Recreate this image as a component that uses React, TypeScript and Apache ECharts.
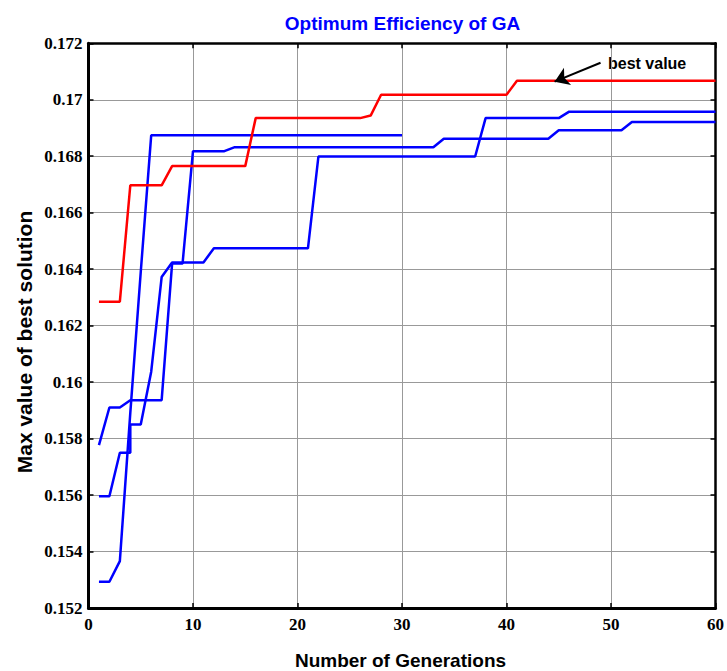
import React, { useEffect, useRef } from "react";
import * as echarts from "echarts";

const TITLE = "Optimum Efficiency of GA";
const X_NAME = "Number of Generations";
const Y_NAME = "Max value of best solution";
const ANNOTATION = "best value";

const X_MIN = 0;
const X_MAX = 60;
const X_STEP = 10;
const Y_MIN = 0.152;
const Y_MAX = 0.172;
const Y_STEP = 0.002;

// red: best run, generations 1..60
const bestValues = [
  0.16285, 0.16285, 0.16285,
  0.16697, 0.16697, 0.16697, 0.16697,
  0.16765, 0.16765, 0.16765, 0.16765, 0.16765, 0.16765, 0.16765, 0.16765,
  0.16935, 0.16935, 0.16935, 0.16935, 0.16935, 0.16935, 0.16935, 0.16935, 0.16935, 0.16935, 0.16935,
  0.16944,
  0.17018, 0.17018, 0.17018, 0.17018, 0.17018, 0.17018, 0.17018, 0.17018, 0.17018, 0.17018, 0.17018, 0.17018, 0.17018,
  0.17067, 0.17067, 0.17067, 0.17067, 0.17067, 0.17067, 0.17067, 0.17067, 0.17067, 0.17067,
  0.17067, 0.17067, 0.17067, 0.17067, 0.17067, 0.17067, 0.17067, 0.17067, 0.17067, 0.17067,
];

// blue run A, generations 1..30
const runAValues = [
  0.15293, 0.15293, 0.15366, 0.15891, 0.1639,
  0.16874, 0.16874, 0.16874, 0.16874, 0.16874, 0.16874, 0.16874, 0.16874, 0.16874, 0.16874,
  0.16874, 0.16874, 0.16874, 0.16874, 0.16874, 0.16874, 0.16874, 0.16874, 0.16874, 0.16874,
  0.16874, 0.16874, 0.16874, 0.16874, 0.16874,
];

// blue run B, generations 1..60
const runBValues = [
  0.15777, 0.1591, 0.1591,
  0.15936, 0.15936, 0.15936, 0.15936,
  0.1642, 0.1642,
  0.16818, 0.16818, 0.16818, 0.16818,
  0.16832, 0.16832, 0.16832, 0.16832, 0.16832, 0.16832, 0.16832, 0.16832, 0.16832, 0.16832,
  0.16832, 0.16832, 0.16832, 0.16832, 0.16832, 0.16832, 0.16832, 0.16832, 0.16832, 0.16832,
  0.16862, 0.16862, 0.16862, 0.16862, 0.16862, 0.16862, 0.16862, 0.16862, 0.16862, 0.16862, 0.16862,
  0.16892, 0.16892, 0.16892, 0.16892, 0.16892, 0.16892, 0.16892,
  0.16921, 0.16921, 0.16921, 0.16921, 0.16921, 0.16921, 0.16921, 0.16921, 0.16921,
];

// blue run C (generation 4 has a vertical step)
const runCGenerations = [
  1, 2, 3, 4, 4, 5, 6, 7, 8, 9, 10, 11, 12, 13, 14, 15, 16, 17, 18, 19, 20, 21,
  22, 23, 24, 25, 26, 27, 28, 29, 30, 31, 32, 33, 34, 35, 36, 37, 38, 39, 40,
  41, 42, 43, 44, 45, 46, 47, 48, 49, 50, 51, 52, 53, 54, 55, 56, 57, 58, 59, 60,
];
const runCValues = [
  0.15596, 0.15596, 0.1575, 0.1575, 0.1585, 0.1585, 0.16037, 0.16372,
  0.16424, 0.16424, 0.16424, 0.16424,
  0.16474, 0.16474, 0.16474, 0.16474, 0.16474, 0.16474, 0.16474, 0.16474, 0.16474, 0.16474,
  0.16799, 0.16799, 0.16799, 0.16799, 0.16799, 0.16799, 0.16799, 0.16799,
  0.16799, 0.16799, 0.16799, 0.16799, 0.16799, 0.16799, 0.16799, 0.16799,
  0.16935, 0.16935, 0.16935, 0.16935, 0.16935, 0.16935, 0.16935, 0.16935,
  0.16958, 0.16958, 0.16958, 0.16958, 0.16958, 0.16958, 0.16958, 0.16958,
  0.16958, 0.16958, 0.16958, 0.16958, 0.16958, 0.16958, 0.16958,
];

const arrowTail = [49.0, 0.17131];
const arrowHead = [44.6, 0.17064];

const SERIF = "'Liberation Serif', 'Times New Roman', serif";
const SANS = "'Liberation Sans', Arial, sans-serif";

export default function App() {
  const ref = useRef<HTMLDivElement>(null);

  useEffect(() => {
    document.body.style.margin = "0";
    if (!ref.current) return;
    const chart = echarts.init(ref.current, undefined, { renderer: "svg" });

    const toPairs = (vals: number[]) => vals.map((v, i) => [i + 1, v]);
    const cPairs = runCValues.map((v, i) => [runCGenerations[i], v]);

    const labelStyle = {
      fontFamily: SERIF,
      fontWeight: "bold" as const,
      fontSize: 17,
      color: "#000",
    };

    const lineSeries = (name: string, data: number[][], color: string, extra: any = {}) => ({
      name,
      type: "line",
      data,
      xAxisIndex: 0,
      yAxisIndex: 0,
      showSymbol: false,
      symbol: "none",
      lineStyle: { color, width: 2.5 },
      itemStyle: { color },
      z: 3,
      ...extra,
    });

    chart.setOption({
      animation: false,
      grid: { left: 88.5, right: 8.5, top: 43.3, bottom: 63, containLabel: false },
      xAxis: [
        {
          type: "value",
          min: X_MIN,
          max: X_MAX,
          interval: X_STEP,
          position: "bottom",
          axisLine: { show: true, onZero: false, lineStyle: { color: "#000", width: 3 } },
          axisTick: { show: true, inside: true, length: 5, lineStyle: { color: "#000", width: 1.5 } },
          axisLabel: { ...labelStyle, margin: 8 },
          splitLine: { show: true, lineStyle: { color: "#999", width: 1 } },
        },
        {
          type: "value",
          min: X_MIN,
          max: X_MAX,
          interval: X_STEP,
          position: "top",
          axisLine: { show: true, onZero: false, lineStyle: { color: "#000", width: 2.5 } },
          axisTick: { show: true, inside: true, length: 5, lineStyle: { color: "#000", width: 1.5 } },
          axisLabel: { show: false },
          splitLine: { show: false },
        },
      ],
      yAxis: [
        {
          type: "value",
          min: Y_MIN,
          max: Y_MAX,
          interval: Y_STEP,
          position: "left",
          axisLine: { show: true, onZero: false, lineStyle: { color: "#000", width: 3 } },
          axisTick: { show: true, inside: true, length: 5, lineStyle: { color: "#000", width: 1.5 } },
          axisLabel: {
            ...labelStyle,
            margin: 6,
            formatter: (v: number) => parseFloat(v.toFixed(3)).toString(),
          },
          splitLine: { show: true, lineStyle: { color: "#999", width: 1 } },
        },
        {
          type: "value",
          min: Y_MIN,
          max: Y_MAX,
          interval: Y_STEP,
          position: "right",
          axisLine: { show: true, onZero: false, lineStyle: { color: "#000", width: 2.5 } },
          axisTick: { show: true, inside: true, length: 5, lineStyle: { color: "#000", width: 1.5 } },
          axisLabel: { show: false },
          splitLine: { show: false },
        },
      ],
      series: [
        lineSeries("Run A", toPairs(runAValues), "#0000ff"),
        lineSeries("Run B", toPairs(runBValues), "#0000ff"),
        lineSeries("Run C", cPairs, "#0000ff"),
        lineSeries("Best", toPairs(bestValues), "#ff0000", { z: 4 }),
        {
          name: "Annotation",
          type: "line",
          data: [],
          xAxisIndex: 0,
          yAxisIndex: 0,
          z: 6,
          markLine: {
            silent: true,
            z: 6,
            symbol: ["none", "arrow"],
            symbolSize: 14,
            symbolKeepAspect: true,
            label: { show: false },
            itemStyle: { color: "#000" },
            lineStyle: { color: "#000", width: 2, type: "solid" },
            emphasis: { disabled: true },
            data: [[{ coord: arrowTail }, { coord: arrowHead }]],
          },
        },
      ],
      graphic: [
        {
          type: "text",
          x: 402.5,
          y: 23.3,
          style: {
            text: TITLE,
            fill: "#0000ff",
            fontFamily: SANS,
            fontWeight: "bold",
            fontSize: 19,
            align: "center",
            verticalAlign: "middle",
          },
        },
        {
          type: "text",
          x: 400.5,
          y: 660,
          style: {
            text: X_NAME,
            fill: "#000",
            fontFamily: SANS,
            fontWeight: "bold",
            fontSize: 19,
            align: "center",
            verticalAlign: "middle",
          },
        },
        {
          type: "text",
          x: 24.5,
          y: 342,
          rotation: Math.PI / 2,
          style: {
            text: Y_NAME,
            fill: "#000",
            fontFamily: SANS,
            fontWeight: "bold",
            fontSize: 21,
            align: "center",
            verticalAlign: "middle",
          },
        },
        {
          type: "text",
          x: 608,
          y: 63,
          style: {
            text: ANNOTATION,
            fill: "#000",
            fontFamily: SANS,
            fontWeight: "bold",
            fontSize: 16,
            align: "left",
            verticalAlign: "middle",
          },
        },
      ],
    });

    return () => chart.dispose();
  }, []);

  return <div ref={ref} style={{ width: 727, height: 671 }} />;
}
